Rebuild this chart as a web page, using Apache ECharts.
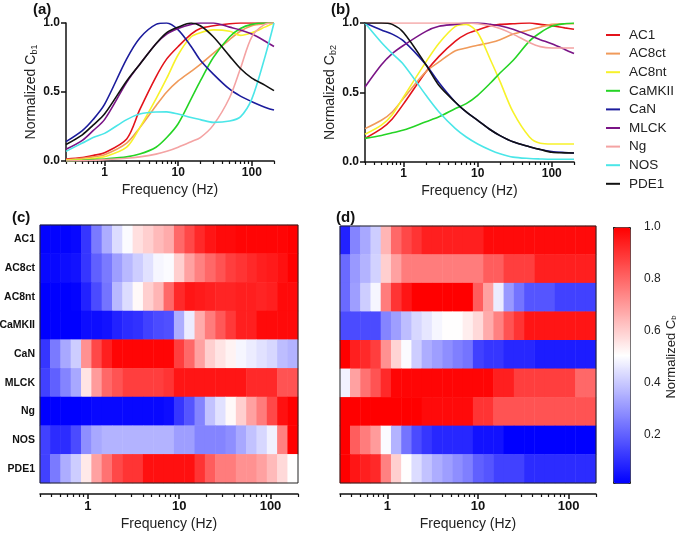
<!DOCTYPE html>
<html>
<head>
<meta charset="utf-8" />
<title>Decoding curves</title>
<script src="https://cdn.jsdelivr.net/npm/echarts@6/dist/echarts.min.js"></script>
</head>
<body style="margin:0;background:#fff">
<div id="main" style="width:677px;height:534px;"></div>
<script>
// proteins and line colours
var proteins = ['AC1', 'AC8ct', 'AC8nt', 'CaMKII', 'CaN', 'MLCK', 'Ng', 'NOS', 'PDE1'];
var colors = ['#e3131b', '#f09a5a', '#f7f22a', '#25d425', '#1c1c9c', '#7a1486', '#f4a3a3', '#4be6e8', '#111111'];

// stimulation frequencies (Hz) of the curves
var freq = [0.3, 0.5, 0.7, 1, 2, 3, 5, 7, 10, 15, 20, 30, 50, 70, 100, 150, 200];
var majorTicks = [1, 10, 100];
var minorTicks = [0.3, 0.4, 0.5, 0.6, 0.7, 0.8, 0.9, 2, 3, 4, 5, 6, 7, 8, 9,
                  20, 30, 40, 50, 60, 70, 80, 90, 200];
var barTicks = [0.2, 0.4, 0.6, 0.8, 1.0];

// (a) normalized Cb1, one row per protein
var lineA = [
  [0.015, 0.025, 0.04, 0.06, 0.16, 0.37, 0.61, 0.74, 0.83, 0.92, 0.96, 0.98, 0.995, 1.0, 1.0, 1.0, 1.0],
  [0.01, 0.02, 0.03, 0.045, 0.13, 0.24, 0.4, 0.5, 0.58, 0.65, 0.7, 0.78, 0.88, 0.94, 0.98, 0.995, 1.0],
  [0.005, 0.01, 0.02, 0.03, 0.1, 0.24, 0.45, 0.6, 0.77, 0.9, 0.93, 0.95, 0.94, 0.91, 0.93, 0.97, 1.0],
  [0.0, 0.005, 0.01, 0.015, 0.03, 0.05, 0.1, 0.17, 0.27, 0.45, 0.58, 0.75, 0.9, 0.96, 0.99, 1.0, 1.0],
  [0.14, 0.22, 0.3, 0.41, 0.74, 0.89, 0.99, 1.0, 0.95, 0.83, 0.73, 0.63, 0.52, 0.47, 0.43, 0.39, 0.37],
  [0.085, 0.15, 0.22, 0.3, 0.57, 0.7, 0.85, 0.92, 0.96, 0.99, 1.0, 1.0, 0.97, 0.95, 0.92, 0.87, 0.83],
  [0.0, 0.003, 0.005, 0.01, 0.02, 0.03, 0.05, 0.07, 0.1, 0.14, 0.17, 0.26, 0.46, 0.67, 0.9, 0.99, 1.0],
  [0.07, 0.13, 0.17, 0.2, 0.3, 0.34, 0.355, 0.356, 0.34, 0.315, 0.3, 0.28, 0.29, 0.32, 0.45, 0.75, 1.0],
  [0.12, 0.19, 0.26, 0.34, 0.58, 0.7, 0.85, 0.93, 0.97, 1.0, 0.98, 0.9, 0.76, 0.67, 0.6, 0.55, 0.51]
];

// (b) normalized Cb2
var lineB = [
  [0.17, 0.24, 0.31, 0.42, 0.65, 0.76, 0.87, 0.92, 0.95, 0.98, 0.99, 0.995, 1.0, 0.99, 0.98, 0.965, 0.955],
  [0.24, 0.3, 0.36, 0.46, 0.65, 0.72, 0.8, 0.82, 0.84, 0.86, 0.88, 0.92, 0.95, 0.97, 0.99, 0.995, 0.995],
  [0.2, 0.265, 0.34, 0.47, 0.72, 0.855, 0.976, 0.99, 0.93, 0.73, 0.58, 0.36, 0.18, 0.135, 0.13, 0.13, 0.13],
  [0.17, 0.19, 0.21, 0.23, 0.29, 0.325, 0.385, 0.42, 0.48, 0.57, 0.64, 0.73, 0.87, 0.93, 0.976, 0.995, 1.0],
  [1.0, 0.95, 0.92, 0.87, 0.7, 0.57, 0.43, 0.36, 0.3, 0.23, 0.19, 0.145, 0.11, 0.09, 0.075, 0.068, 0.065],
  [0.54, 0.7, 0.78, 0.84, 0.94, 0.976, 0.99, 1.0, 1.0, 0.99, 0.98, 0.955, 0.91, 0.88, 0.85, 0.81, 0.78],
  [1.0, 1.0, 1.0, 1.0, 1.0, 1.0, 1.0, 1.0, 0.995, 0.98, 0.96, 0.92, 0.86, 0.83, 0.82, 0.82, 0.82],
  [1.0, 0.86, 0.78, 0.7, 0.48, 0.36, 0.24, 0.18, 0.13, 0.085, 0.06, 0.035, 0.025, 0.022, 0.02, 0.02, 0.02],
  [1.0, 1.0, 0.99, 0.93, 0.7, 0.55, 0.43, 0.36, 0.3, 0.23, 0.19, 0.145, 0.11, 0.09, 0.07, 0.066, 0.065]
];

// (c) heat map, 25 frequency bins per protein
var heatC = [
  [0.02, 0.02, 0.02, 0.03, 0.12, 0.25, 0.35, 0.44, 0.5, 0.57, 0.6, 0.64, 0.67, 0.8, 0.86, 0.92, 0.96, 0.98, 0.98, 0.99, 0.99, 0.99, 0.99, 0.99, 1.0],
  [0.03, 0.03, 0.04, 0.05, 0.12, 0.2, 0.25, 0.32, 0.37, 0.41, 0.45, 0.49, 0.5, 0.6, 0.69, 0.75, 0.8, 0.84, 0.88, 0.9, 0.92, 0.94, 0.95, 0.97, 1.0],
  [0.01, 0.01, 0.01, 0.02, 0.08, 0.16, 0.24, 0.37, 0.44, 0.52, 0.6, 0.65, 0.8, 0.92, 0.96, 0.95, 0.94, 0.93, 0.93, 0.94, 0.94, 0.93, 0.94, 0.98, 0.98],
  [0.0, 0.0, 0.0, 0.01, 0.04, 0.04, 0.05, 0.08, 0.1, 0.11, 0.14, 0.16, 0.17, 0.35, 0.47, 0.67, 0.76, 0.83, 0.89, 0.94, 0.94, 0.98, 0.98, 0.98, 0.98],
  [0.12, 0.25, 0.34, 0.41, 0.72, 0.86, 0.94, 0.99, 0.99, 0.99, 0.99, 0.99, 0.99, 0.88, 0.8, 0.69, 0.6, 0.56, 0.53, 0.49, 0.47, 0.45, 0.43, 0.38, 0.36],
  [0.14, 0.2, 0.27, 0.34, 0.56, 0.7, 0.8, 0.84, 0.88, 0.88, 0.88, 0.88, 0.9, 0.96, 0.96, 0.96, 0.96, 0.96, 0.96, 0.96, 0.92, 0.92, 0.92, 0.84, 0.84],
  [0.01, 0.01, 0.01, 0.01, 0.02, 0.03, 0.03, 0.03, 0.03, 0.03, 0.03, 0.03, 0.04, 0.12, 0.18, 0.27, 0.39, 0.45, 0.52, 0.6, 0.69, 0.76, 0.86, 0.97, 1.0],
  [0.14, 0.1, 0.1, 0.16, 0.29, 0.34, 0.36, 0.36, 0.36, 0.36, 0.36, 0.36, 0.36, 0.32, 0.32, 0.27, 0.27, 0.27, 0.29, 0.34, 0.39, 0.43, 0.48, 0.75, 1.0],
  [0.14, 0.25, 0.35, 0.41, 0.55, 0.69, 0.78, 0.86, 0.9, 0.9, 0.97, 0.97, 0.97, 0.97, 0.97, 0.9, 0.82, 0.76, 0.76, 0.72, 0.72, 0.69, 0.64, 0.58, 0.51]
];

// (d) heat map
var heatD = [
  [0.08, 0.27, 0.34, 0.41, 0.65, 0.8, 0.86, 0.9, 0.94, 0.94, 0.94, 0.94, 0.94, 0.94, 0.98, 0.98, 0.98, 0.98, 0.98, 0.98, 0.98, 0.98, 0.98, 0.98, 0.98],
  [0.22, 0.31, 0.36, 0.42, 0.6, 0.69, 0.76, 0.76, 0.76, 0.76, 0.76, 0.76, 0.76, 0.76, 0.82, 0.82, 0.88, 0.88, 0.88, 0.94, 0.94, 0.94, 0.94, 0.94, 0.94],
  [0.22, 0.32, 0.41, 0.49, 0.76, 0.9, 0.96, 1.0, 1.0, 1.0, 1.0, 1.0, 1.0, 0.82, 0.69, 0.47, 0.31, 0.24, 0.18, 0.18, 0.18, 0.14, 0.14, 0.14, 0.14],
  [0.16, 0.16, 0.16, 0.16, 0.27, 0.32, 0.38, 0.43, 0.46, 0.49, 0.51, 0.51, 0.54, 0.58, 0.67, 0.75, 0.84, 0.9, 0.96, 0.96, 0.96, 0.96, 0.96, 0.96, 0.96],
  [1.0, 0.94, 0.92, 0.88, 0.72, 0.59, 0.5, 0.41, 0.35, 0.32, 0.29, 0.26, 0.24, 0.14, 0.12, 0.12, 0.09, 0.09, 0.09, 0.07, 0.07, 0.07, 0.07, 0.07, 0.07],
  [0.48, 0.69, 0.78, 0.84, 0.92, 0.99, 0.99, 0.99, 0.99, 0.99, 0.99, 0.99, 0.99, 0.99, 0.99, 0.94, 0.94, 0.88, 0.88, 0.88, 0.88, 0.88, 0.88, 0.8, 0.8],
  [1.0, 1.0, 1.0, 1.0, 1.0, 1.0, 1.0, 1.0, 0.98, 0.98, 0.98, 0.98, 0.98, 0.9, 0.9, 0.84, 0.84, 0.84, 0.84, 0.84, 0.84, 0.84, 0.84, 0.84, 0.84],
  [1.0, 0.82, 0.76, 0.7, 0.5, 0.36, 0.24, 0.16, 0.12, 0.09, 0.09, 0.09, 0.09, 0.05, 0.05, 0.05, 0.01, 0.01, 0.01, 0.01, 0.01, 0.01, 0.01, 0.01, 0.01],
  [1.0, 0.96, 0.94, 0.92, 0.75, 0.6, 0.51, 0.44, 0.39, 0.35, 0.32, 0.29, 0.26, 0.2, 0.18, 0.14, 0.14, 0.14, 0.1, 0.1, 0.1, 0.1, 0.1, 0.1, 0.1]
];

var FONT = 'Liberation Sans, Arial, sans-serif';
var bins = heatC[0].map(function (v, i) { return String(i); });

function heatData(rows) {
  var out = [];
  rows.forEach(function (row, r) {
    row.forEach(function (v, c) { out.push([c, r, v]); });
  });
  return out;
}

// log frequency axis: one with labels + major ticks, one with minor ticks
function freqAxes(grid, offset, labelSize, gap) {
  var main = {
    type: 'log', gridIndex: grid, position: 'bottom', min: 0.3, max: 200, offset: offset,
    axisLine: { show: true, lineStyle: { color: '#111', width: 1.5 } },
    axisTick: { show: true, customValues: majorTicks, length: 5, lineStyle: { color: '#111', width: 1.5 } },
    axisLabel: { customValues: majorTicks, fontFamily: FONT, fontWeight: 'bold', fontSize: labelSize, color: '#111', margin: 6 },
    splitLine: { show: false }, minorTick: { show: false },
    name: 'Frequency (Hz)', nameLocation: 'middle', nameGap: gap,
    nameTextStyle: { fontFamily: FONT, fontSize: 14, color: '#222' }
  };
  var minor = {
    type: 'log', gridIndex: grid, position: 'bottom', min: 0.3, max: 200, offset: offset,
    axisLine: { show: false },
    axisTick: { show: true, customValues: minorTicks, length: 3, lineStyle: { color: '#111', width: 1.2 } },
    axisLabel: { show: false }, splitLine: { show: false }
  };
  return [main, minor];
}

function levelAxis(grid, sub) {
  return {
    type: 'value', gridIndex: grid, min: 0, max: 1, interval: 0.5,
    axisLine: { show: true, lineStyle: { color: '#111', width: 1.5 } },
    axisTick: { show: true, length: 5, lineStyle: { color: '#111', width: 1.5 } },
    axisLabel: { fontFamily: FONT, fontWeight: 'bold', fontSize: 12, color: '#111', margin: 6,
      formatter: function (v) { return v.toFixed(1); } },
    splitLine: { show: false },
    name: 'Normalized C{sub|' + sub + '}', nameLocation: 'middle', nameGap: 24,
    nameTextStyle: { fontFamily: FONT, fontSize: 14, color: '#222',
      rich: { sub: { fontFamily: FONT, fontSize: 9, color: '#222', verticalAlign: 'bottom', padding: [7, 0, 0, 0] } } }
  };
}

var xAxes = [].concat(
  freqAxes(0, 0, 12, 22),
  freqAxes(1, 0, 12, 22),
  [{ type: 'category', gridIndex: 2, position: 'bottom', data: bins, show: false }],
  freqAxes(2, 11, 13, 23),
  [{ type: 'category', gridIndex: 3, position: 'bottom', data: bins, show: false }],
  freqAxes(3, 11, 13, 23),
  [{ type: 'value', gridIndex: 4, show: false, min: 0, max: 1 }]
);

var yAxes = [
  levelAxis(0, 'b1'),
  levelAxis(1, 'b2'),
  { type: 'category', gridIndex: 2, data: proteins, inverse: true,
    axisLine: { show: false }, axisTick: { show: false },
    axisLabel: { fontFamily: FONT, fontWeight: 'bold', fontSize: 10.5, color: '#111', margin: 5 } },
  { type: 'category', gridIndex: 3, data: proteins, inverse: true,
    axisLine: { show: false }, axisTick: { show: false }, axisLabel: { show: false } },
  { type: 'value', gridIndex: 4, position: 'right', min: 0, max: 1, interval: 0.2,
    axisLine: { show: false },
    axisTick: { show: true, customValues: barTicks, length: 4, lineStyle: { color: '#222' } },
    axisLabel: { customValues: barTicks, fontFamily: FONT, fontSize: 12, color: '#222', margin: 14,
      formatter: function (v) { return v.toFixed(1); } },
    splitLine: { show: false },
    name: 'Normalized C{sub|b}', nameLocation: 'middle', nameGap: 32, nameRotate: 90,
    nameTextStyle: { fontFamily: FONT, fontSize: 13, color: '#222',
      rich: { sub: { fontFamily: FONT, fontSize: 8, color: '#222', verticalAlign: 'bottom', padding: [6, 0, 0, 0] } } } }
];

var series = [];
[lineA, lineB].forEach(function (panel, p) {
  panel.forEach(function (vals, k) {
    series.push({
      name: proteins[k], type: 'line', xAxisIndex: p * 2, yAxisIndex: p,
      data: freq.map(function (f, i) { return [f, vals[i]]; }),
      symbol: 'none', smooth: 0.3, color: colors[k],
      lineStyle: { width: 1.6, color: colors[k] }, z: 3
    });
  });
});
series.push({ type: 'heatmap', xAxisIndex: 4, yAxisIndex: 2, data: heatData(heatC) });
series.push({ type: 'heatmap', xAxisIndex: 7, yAxisIndex: 3, data: heatData(heatD) });

var panelLabel = function (t, l, tp) {
  return { text: t, left: l, top: tp, padding: 0,
    textStyle: { fontFamily: FONT, fontSize: 15, fontWeight: 'bold', color: '#111' } };
};

var myChart = echarts.init(document.getElementById('main'));
myChart.setOption({
  animation: false,
  backgroundColor: '#fff',
  title: [panelLabel('(a)', 33, 2), panelLabel('(b)', 331, 2), panelLabel('(c)', 12, 210), panelLabel('(d)', 336, 210)],
  legend: {
    data: proteins, orient: 'vertical', left: 601, top: 23,
    icon: 'rect', itemWidth: 14, itemHeight: 2, itemGap: 4.6,
    textStyle: { fontFamily: FONT, fontSize: 13.5, color: '#222', padding: [0, 0, 0, 4] }
  },
  grid: [
    { left: 66, top: 23, width: 208, height: 138, outerBoundsMode: 'none' },
    { left: 365, top: 23, width: 209, height: 139, outerBoundsMode: 'none' },
    { left: 40, top: 225, width: 258, height: 258, outerBoundsMode: 'none', show: true, borderColor: '#222', borderWidth: 1, backgroundColor: 'transparent', z: 5 },
    { left: 340, top: 226, width: 256, height: 257, outerBoundsMode: 'none', show: true, borderColor: '#222', borderWidth: 1, backgroundColor: 'transparent', z: 5 },
    { left: 613, top: 227, width: 17, height: 260, outerBoundsMode: 'none' }
  ],
  visualMap: {
    type: 'continuous', seriesIndex: [18, 19], min: 0.015, max: 1,
    left: 613, top: 227, itemWidth: 17, itemHeight: 256, padding: 0,
    calculable: false, text: null, borderColor: '#222', borderWidth: 1,
    inRange: { color: ['#0000ff', '#ffffff', '#ff0000'] }
  },
  xAxis: xAxes,
  yAxis: yAxes,
  series: series
});
</script>
</body>
</html>
